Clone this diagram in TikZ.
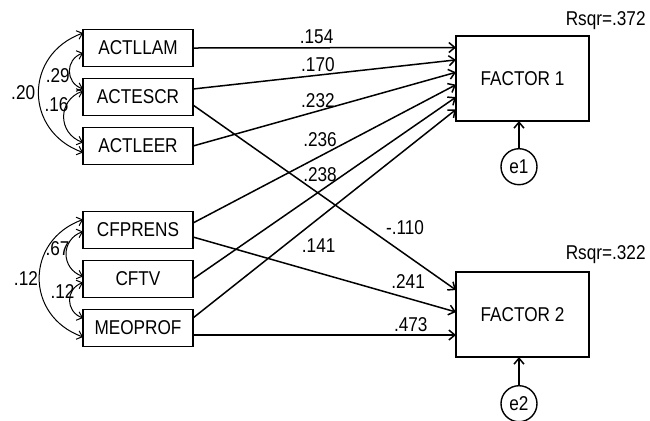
\documentclass[tikz,border=0pt]{standalone}
\usepackage{fontspec}
\setmainfont{Liberation Sans}[FakeStretch=0.86]
\usepackage{tikz}
\usetikzlibrary{arrows.meta,positioning}

\begin{document}
\begin{tikzpicture}[
  x = 0.5pt, y = 0.5pt,
  node distance = 6pt,
  var/.style = {draw, line width=0.9pt, minimum width=55pt,
                minimum height=18.5pt, inner sep=0pt, outer sep=0pt,
                font=\fontsize{10}{12}\selectfont},
  fac/.style = {draw, line width=0.9pt, minimum width=66.5pt,
                minimum height=42.5pt, outer sep=0pt,
                font=\fontsize{10}{12}\selectfont},
  err/.style = {draw, circle, line width=0.7pt, minimum size=18pt,
                inner sep=0pt, font=\fontsize{10}{12}\selectfont},
  lbl/.style = {inner sep=1.5pt, font=\fontsize{10}{12}\selectfont},
  reg/.style = {-{Straight Barb[length=3pt,width=5pt]}, line width=0.75pt},
  cov/.style = {{Straight Barb[length=2.5pt,width=4.5pt]}-{Straight Barb[length=2.5pt,width=4.5pt]},
                line width=0.5pt, bend right=70, looseness=1.35}
]
\useasboundingbox (0,0) rectangle (650,-420);
\node[var] (ACTLLAM) at (138,-48) {ACTLLAM};
\node[var, below=of ACTLLAM] (ACTESCR) {ACTESCR};
\node[var, below=of ACTESCR] (ACTLEER) {ACTLEER};
\node[var, below=23.5pt of ACTLEER] (CFPRENS) {CFPRENS};
\node[var, below=of CFPRENS] (CFTV) {CFTV};
\node[var, below=of CFTV] (MEOPROF) {MEOPROF};
\node[fac] (F1) at (522.5,-78.5) {FACTOR 1};
\node[fac] (F2) at (522.5,-314.5) {FACTOR 2};
\node[err, below=13.5pt of F1.south, xshift=-1.75pt] (e1) {e1};
\node[err, below=14pt of F2.south, xshift=-1.75pt] (e2) {e2};
\node[lbl, anchor=south east] (R1) at ([xshift=30pt,yshift=1.5pt]F1.north east) {Rsqr=.372};
\node[lbl, anchor=south east] (R2) at ([xshift=30pt,yshift=2.5pt]F2.north east) {Rsqr=.322};
\draw[reg] (ACTLLAM.east) -- ([yshift=15.5pt]F1.west)
  node[lbl, pos=0.47, above] {.154};
\draw[reg] ([yshift=4pt]ACTESCR.east) -- ([yshift=9.3pt]F1.west)
  node[lbl, pos=0.475, above] {.170};
\draw[reg] (ACTLEER.east) -- ([yshift=3.1pt]F1.west)
  node[lbl, pos=0.475, above] {.232};
\draw[reg] ([yshift=3.5pt]CFPRENS.east) -- ([yshift=-3.1pt]F1.west)
  node[lbl, pos=0.483, above=3pt] {.236};
\draw[reg] (CFTV.east) -- ([yshift=-9.3pt]F1.west)
  node[lbl, pos=0.483, above=3pt] {.238};
\draw[reg] ([yshift=5pt]MEOPROF.east) -- ([yshift=-15.5pt]F1.west)
  node[lbl, pos=0.40, below right] {.141};
\draw[reg] ([yshift=-4pt]ACTESCR.east) -- ([yshift=12.25pt]F2.west)
  node[lbl, pos=0.72, above right] {-.110};
\draw[reg] ([yshift=-3.5pt]CFPRENS.east) -- ([yshift=1.25pt]F2.west)
  node[lbl, pos=0.74, above right] {.241};
\draw[reg] ([yshift=-3.5pt]MEOPROF.east) -- ([yshift=-10.25pt]F2.west)
  node[lbl, pos=0.75, above right] {.473};
\draw[reg] (e1.north) -- (e1.north |- F1.south);
\draw[reg] (e2.north) -- (e2.north |- F2.south);
\draw[cov] ([yshift=7.5pt]ACTLLAM.west) to node[lbl, left] {.20} ([yshift=-3.25pt]ACTLEER.west);
\draw[cov] ([yshift=-2.5pt]ACTLLAM.west) to node[lbl, pos=0.6, left=-1.5pt] {.29} ([yshift=4pt]ACTESCR.west);
\draw[cov] ([yshift=3pt]ACTESCR.west) to node[lbl, pos=0.3, left=-2.5pt] {.16} ([yshift=1.75pt]ACTLEER.west);
\draw[cov] ([yshift=5.25pt]CFPRENS.west) to node[lbl, left=-1pt] {.12} ([yshift=-4.5pt]MEOPROF.west);
\draw[cov] ([yshift=-0.75pt]CFPRENS.west) to node[lbl, pos=0.4, left=-3pt] {.67} ([yshift=1.25pt]CFTV.west);
\draw[cov] ([yshift=-1.75pt]CFTV.west) to node[lbl, pos=0.3, left=-3pt] {.12} ([yshift=5pt]MEOPROF.west);
\end{tikzpicture}
\end{document}
